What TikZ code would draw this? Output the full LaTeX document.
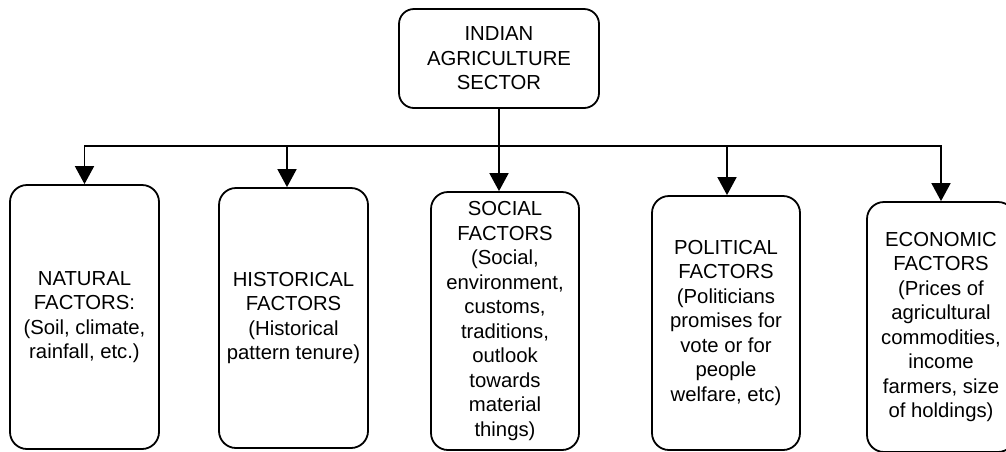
\documentclass[tikz,border=0pt]{standalone}
\usepackage{fontspec}
\setmainfont{Liberation Sans}
\usetikzlibrary{arrows.meta}
\begin{document}
\begin{tikzpicture}[x=1pt,y=-1pt,
  card/.style={draw, line width=1.8pt, rounded corners=17pt, inner sep=0pt,
    align=center, font=\fontsize{20.3}{24.5}\selectfont},
  feed/.style={line width=1.8pt, -{Triangle[width=19pt,length=18pt]}},
  bus/.style={line width=1.8pt}]
\useasboundingbox (0,0) rectangle (1006,451);
\clip (0,0) rectangle (1006,451);

% root box
\node[card, minimum width=200pt, minimum height=99pt, rounded corners=15pt]
  (sector) at (499,58.5) {INDIAN\\AGRICULTURE\\SECTOR};

% factor boxes
\node[card, minimum width=149pt, minimum height=264pt] (natural) at (84.5,317)
  {NATURAL\\FACTORS:\\(Soil, climate,\\rainfall, etc.)};
\node[card, minimum width=149pt, minimum height=260pt] (historical) at (293.5,318)
  {HISTORICAL\\FACTORS\\(Historical\\pattern tenure)};
\node[card, minimum width=148pt, minimum height=258pt] (social) at (505,321)
  {SOCIAL\\FACTORS\\(Social,\\environment,\\customs,\\traditions,\\outlook\\towards\\material\\things)};
\node[card, minimum width=148pt, minimum height=254pt] (political) at (726,323)
  {POLITICAL\\FACTORS\\(Politicians\\promises for\\vote or for\\people\\welfare, etc)};
\node[card, minimum width=148pt, minimum height=250pt] (economic) at (941,327)
  {ECONOMIC\\FACTORS\\(Prices of\\agricultural\\commodities,\\income\\farmers, size\\of holdings)};

% distribution bus
\coordinate (hub) at (499,146);
\coordinate (tapB) at (287,146);
\coordinate (tapD) at (727,146);

\draw[feed] (hub) -| (natural.north);
\draw[feed] (hub) -| (economic.north);
\draw[feed] (sector.south) -- (sector.south |- social.north);
\draw[feed] (tapB) -- (tapB |- historical.north);
\draw[feed] (tapD) -- (tapD |- political.north);
\end{tikzpicture}
\end{document}
